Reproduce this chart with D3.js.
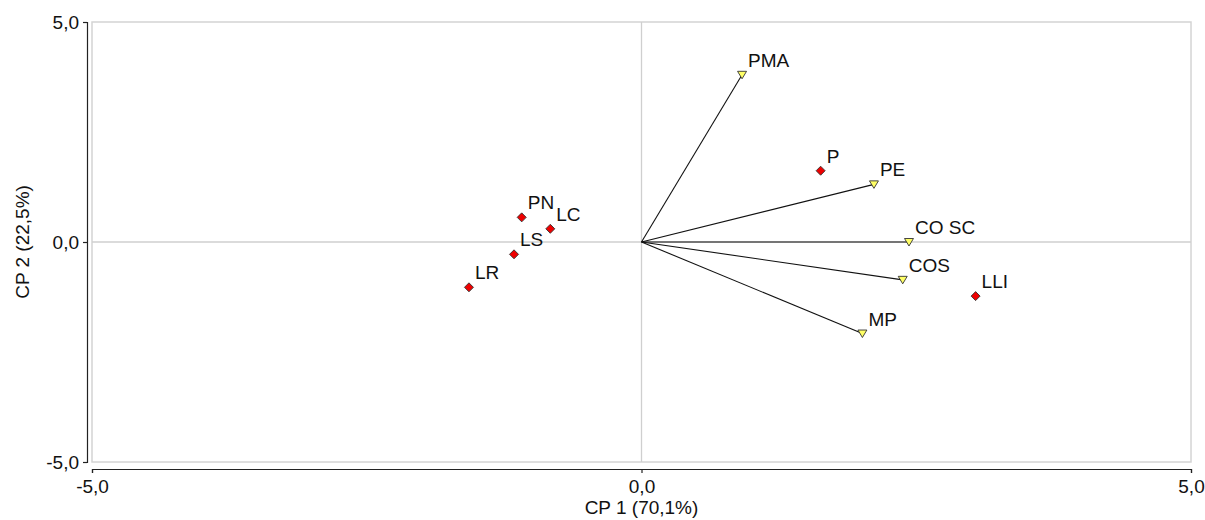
<!DOCTYPE html>
<html><head><meta charset="utf-8">
<script src="https://cdn.jsdelivr.net/npm/d3@7"></script>
<style>body{margin:0;background:#fff}svg text{font-family:Arial,"Liberation Sans",sans-serif;fill:#111}</style>
</head><body><svg id="c" width="1205" height="520"></svg>
<script>
// Variables (loadings) drawn as vectors with triangle markers
const varNames = ["PMA","PE","CO SC","COS","MP"];
const varX = [0.915, 2.115, 2.434, 2.377, 2.01];
const varY = [3.80, 1.31, 0.00, -0.86, -2.08];
// Samples (scores) drawn as red diamonds
const obsNames = ["P","PN","LC","LS","LR","LLI"];
const obsX = [1.63, -1.09, -0.83, -1.16, -1.57, 3.04];
const obsY = [1.62, 0.56, 0.30, -0.28, -1.03, -1.23];
const xTicks = [-5, 0, 5];
const yTicks = [-5, 0, 5];
const xTitle = "CP 1 (70,1%)";
const yTitle = "CP 2 (22,5%)";

const svg = d3.select("#c");
const x = d3.scaleLinear().domain([-5,5]).range([92,1191]);
const y = d3.scaleLinear().domain([-5,5]).range([462,22]);
const fmt = d => d.toFixed(1).replace(".", ",");
const FS = 19;

// frame
svg.append("rect").attr("x",x(-5)).attr("y",y(5)).attr("width",x(5)-x(-5)).attr("height",y(-5)-y(5))
  .attr("fill","none").attr("stroke","#d4d4d4").attr("stroke-width",1.5);
// zero lines
svg.append("line").attr("x1",x(0)).attr("x2",x(0)).attr("y1",y(5)).attr("y2",y(-5)).attr("stroke","#cfcfcf").attr("stroke-width",1.3);
svg.append("line").attr("x1",x(-5)).attr("x2",x(5)).attr("y1",y(0)).attr("y2",y(0)).attr("stroke","#cfcfcf").attr("stroke-width",1.3);

// axes
const xAxis = svg.append("g").attr("transform","translate(0,469)")
  .call(d3.axisBottom(x).tickValues(xTicks).tickFormat(fmt).tickSizeOuter(0).tickSize(4).tickPadding(7));
const yAxis = svg.append("g").attr("transform","translate(87,0)")
  .call(d3.axisLeft(y).tickValues(yTicks).tickFormat(fmt).tickSizeOuter(0).tickSize(4).tickPadding(4));
[xAxis,yAxis].forEach(g=>{
  g.selectAll("path,line").attr("stroke","#222").attr("stroke-width",1.2);
  g.selectAll("text").attr("font-size",FS).attr("font-family","Arial, 'Liberation Sans', sans-serif").attr("fill","#111");
});

svg.append("text").attr("x",x(0)).attr("y",514).attr("text-anchor","middle").attr("font-size",FS).text(xTitle);
svg.append("text").attr("transform",`translate(29,${y(0)}) rotate(-90)`).attr("text-anchor","middle").attr("font-size",FS).text(yTitle);

// vectors
const vars = varNames.map((n,i)=>({n,x:varX[i],y:varY[i]}));
svg.append("g").selectAll("line").data(vars).join("line")
  .attr("x1",x(0)).attr("y1",y(0)).attr("x2",d=>x(d.x)).attr("y2",d=>y(d.y))
  .attr("stroke","#111").attr("stroke-width",1.1);
svg.append("g").selectAll("path").data(vars).join("path")
  .attr("transform",d=>`translate(${x(d.x)},${y(d.y)})`)
  .attr("d","M-4.5,-3.5L4.5,-3.5L0,4Z")
  .attr("fill","#ffff66").attr("stroke","#333").attr("stroke-width",0.9);
svg.append("g").selectAll("text").data(vars).join("text")
  .attr("x",d=>x(d.x)+6).attr("y",d=>y(d.y)-8).attr("font-size",FS).text(d=>d.n);

// observations
const obs = obsNames.map((n,i)=>({n,x:obsX[i],y:obsY[i]}));
svg.append("g").selectAll("path").data(obs).join("path")
  .attr("transform",d=>`translate(${x(d.x)},${y(d.y)})`)
  .attr("d","M0,-4.5L4.5,0L0,4.5L-4.5,0Z")
  .attr("fill","#ee0000").attr("stroke","#333").attr("stroke-width",0.9);
svg.append("g").selectAll("text").data(obs).join("text")
  .attr("x",d=>x(d.x)+6).attr("y",d=>y(d.y)-8).attr("font-size",FS).text(d=>d.n);
</script></body></html>
